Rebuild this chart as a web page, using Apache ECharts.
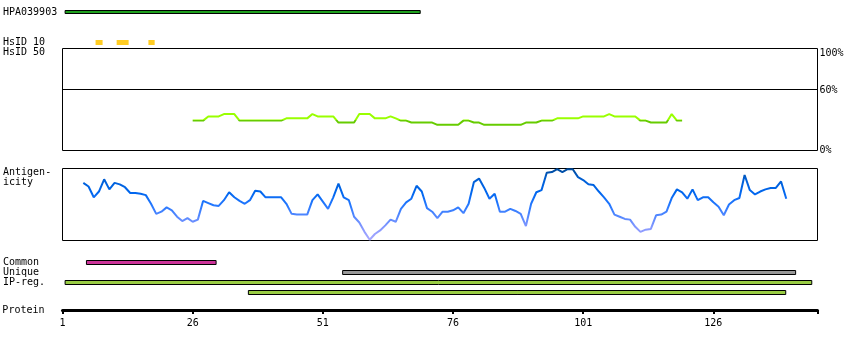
<!DOCTYPE html>
<html>
<head>
<meta charset="utf-8">
<script src="https://cdn.jsdelivr.net/npm/echarts@6/dist/echarts.min.js"></script>
<style>html,body{margin:0;padding:0;background:#fff}#c{width:850px;height:350px}</style>
</head>
<body>
<div id="c"></div>
<script>
// ---- data (residue numbers) ----
const proteinLength = 145;
const tickLabels = ['1', '26', '51', '76', '101', '126'];
const topRows = ['HPA039903', ' ', '  ', 'HsID 10'];
const bottomRows = ['Common', 'Unique', 'IP-reg.', ''];
const hpaRanges = [[1.5, 69.7]];
const hsid10Ranges = [[7.35, 8.7], [11.4, 13.7], [17.5, 18.7]];
const commonRanges = [[5.6, 30.5]];
const uniqueRanges = [[54.8, 141.8]];
const ipRegRanges = [[1.5, 144.9], [36.7, 139.9]];
const ipRegRows = [2, 3];

const hsid50Start = 26;
const hsid50 = [
  29.3, 29.3, 29.3, 33.4, 33.4, 33.4, 35.7, 35.7, 35.7,
  29.3, 29.3, 29.3, 29.3, 29.3, 29.3, 29.3, 29.3, 29.3,
  31.5, 31.5, 31.5, 31.5, 31.5, 35.7, 33.4, 33.4, 33.4, 33.4,
  27.4, 27.4, 27.4, 27.4, 35.7, 35.7, 35.7, 31.5, 31.5, 31.5,
  33.4, 31.5, 29.3, 29.3, 27.4, 27.4, 27.4, 27.4, 27.4,
  25.2, 25.2, 25.2, 25.2, 25.2, 29.3, 29.3, 27.4, 27.4,
  25.2, 25.2, 25.2, 25.2, 25.2, 25.2, 25.2, 25.2,
  27.4, 27.4, 27.4, 29.3, 29.3, 29.3, 31.5, 31.5, 31.5, 31.5, 31.5,
  33.4, 33.4, 33.4, 33.4, 33.4, 35.7, 33.4, 33.4, 33.4, 33.4, 33.4,
  29.3, 29.3, 27.4, 27.4, 27.4, 27.4, 35.7, 29.3, 29.3
];

const antigenStart = 5;
const antigenicity = [
  80, 75, 60, 68, 85, 71, 80, 78, 74, 66, 66, 65, 63, 51, 37, 40, 46, 42, 33, 27,
  31, 26, 29, 55, 52, 49, 48, 56, 67, 60, 55, 51, 56, 69, 68, 60, 60, 60, 60, 51,
  37, 36, 36, 36, 56, 64, 54, 44, 60, 79, 60, 56, 33, 25, 12, 1, 9, 14, 21, 29,
  26, 44, 53, 58, 76, 68, 45, 40, 31, 40, 40, 42, 46, 38, 51, 81, 86, 73, 58, 65,
  40, 40, 44, 41, 37, 20, 51, 67, 70, 94, 95, 99, 95, 99, 99, 88, 84, 78, 77, 68,
  60, 51, 36, 33, 30, 29, 19, 12, 15, 16, 35, 36, 40, 59, 71, 67, 58, 71, 56, 60,
  60, 53, 47, 35, 50, 56, 59, 91, 70, 64, 68, 71, 73, 73, 82, 58
];

// ---- chart ----
const FONT = 'DejaVu Sans Mono';
const L = 62.5, W = 755;
const ax = r => r - 1; // residue -> axis position

function rangeRender(h, fill, stroke) {
  return function (params, api) {
    const a = api.coord([api.value(0), api.value(2)]);
    const b = api.coord([api.value(1), api.value(2)]);
    const y = stroke ? Math.floor(a[1] - h / 2) + 0.5 : Math.round(a[1] - h / 2);
    return {
      type: 'rect',
      shape: { x: a[0], y: y, width: b[0] - a[0], height: h },
      style: { fill: fill, stroke: stroke ? '#000' : null, lineWidth: stroke ? 1 : 0 }
    };
  };
}
function rangeData(ranges, rows) {
  return ranges.map((r, i) => [ax(r[0]), ax(r[1]), Array.isArray(rows) ? rows[i] : rows]);
}
const catAxisLabel = { interval: 0, align: 'left', margin: 59.5, fontFamily: FONT, fontSize: 10, color: '#000' };

const xAxes = [0, 1, 2, 3, 4].map(i => ({
  type: 'value', gridIndex: i, min: 0, max: proteinLength, interval: 25,
  show: i === 4,
  axisLine: { show: true, lineStyle: { color: '#000', width: 3 } },
  axisTick: { show: true, length: 4, lineStyle: { color: '#000', width: 2 } },
  splitLine: { show: false },
  axisLabel: {
    margin: 8, fontFamily: FONT, fontSize: 10, color: '#000',
    formatter: v => (v % 25 === 0 && tickLabels[v / 25] !== undefined) ? tickLabels[v / 25] : ''
  },
  name: i === 4 ? 'Protein' : '', nameLocation: 'start', nameGap: 18,
  nameTextStyle: { fontFamily: FONT, fontSize: 10, color: '#000' }
}));

const option = {
  animation: false,
  textStyle: { fontFamily: FONT, fontSize: 10, color: '#000' },
  grid: [
    { left: L, width: W, top: 7, height: 40 },
    { left: L, width: W, top: 48.5, height: 102, show: true, borderColor: '#000', borderWidth: 1 },
    { left: L, width: W, top: 168.5, height: 72, show: true, borderColor: '#000', borderWidth: 1 },
    { left: L, width: W, top: 257, height: 40 },
    { left: L, width: W, top: 300, height: 10 }
  ],
  xAxis: xAxes,
  yAxis: [
    { type: 'category', gridIndex: 0, data: topRows, inverse: true,
      axisLine: { show: false }, axisTick: { show: false }, axisLabel: catAxisLabel },
    { type: 'value', gridIndex: 1, position: 'right', min: 0, max: 100, interval: 20,
      axisLine: { show: false }, axisTick: { show: false }, splitLine: { show: false },
      axisLabel: {
        margin: 2, fontFamily: FONT, fontSize: 10, color: '#000',
        formatter: v => v === 100 ? '{t|100%}' : v === 60 ? '{m|60%}' : v === 0 ? '0%' : '',
        rich: {
          t: { padding: [9, 0, 0, 0], fontFamily: FONT, fontSize: 10, color: '#000' },
          m: { padding: [3, 0, 0, 0], fontFamily: FONT, fontSize: 10, color: '#000' }
        }
      } },
    { type: 'value', gridIndex: 2, min: 0, max: 100, show: false },
    { type: 'category', gridIndex: 3, data: bottomRows, inverse: true,
      axisLine: { show: false }, axisTick: { show: false }, axisLabel: catAxisLabel },
    { type: 'value', gridIndex: 4, min: 0, max: 1, show: false }
  ],
  visualMap: [
    { type: 'piecewise', show: false, seriesIndex: 2, dimension: 1,
      pieces: [{ min: 0, max: 30, color: '#66cc00' }, { min: 30, max: 100, color: '#99ff00' }] },
    { type: 'continuous', show: false, seriesIndex: 3, dimension: 1, min: 0, max: 100,
      inRange: { color: ['#aaaaff', '#8899ff', '#5588ff', '#2277ff', '#0066ee', '#0060d8', '#004a99'] } }
  ],
  graphic: [
    { type: 'text', x: 3, y: 52.5, style: { text: 'HsID 50', font: '10px "DejaVu Sans Mono"', fill: '#000', verticalAlign: 'middle' } },
    { type: 'text', x: 3, y: 177.5, style: { text: 'Antigen-\nicity', font: '10px "DejaVu Sans Mono"', lineHeight: 10, fill: '#000', verticalAlign: 'middle' } }
  ],
  series: [
    { type: 'custom', xAxisIndex: 0, yAxisIndex: 0, encode: { x: [0, 1], y: 2 },
      renderItem: rangeRender(3, '#1ea01e', true), data: rangeData(hpaRanges, 0) },
    { type: 'custom', xAxisIndex: 0, yAxisIndex: 0, encode: { x: [0, 1], y: 2 },
      renderItem: rangeRender(5, '#ffcc22', false), data: rangeData(hsid10Ranges, 3) },
    { type: 'line', xAxisIndex: 1, yAxisIndex: 1, showSymbol: false, symbol: 'none',
      lineStyle: { width: 2 },
      data: hsid50.map((v, i) => [ax(hsid50Start + i), v]),
      markLine: { silent: true, symbol: 'none', label: { show: false },
        lineStyle: { color: '#000', width: 1, type: 'solid' }, data: [{ yAxis: 60 }] } },
    { type: 'line', xAxisIndex: 2, yAxisIndex: 2, showSymbol: false, symbol: 'none',
      lineStyle: { width: 2 },
      data: antigenicity.map((v, i) => [ax(antigenStart + i), v]) },
    { type: 'custom', xAxisIndex: 3, yAxisIndex: 3, encode: { x: [0, 1], y: 2 },
      renderItem: rangeRender(4, '#cc3399', true), data: rangeData(commonRanges, 0) },
    { type: 'custom', xAxisIndex: 3, yAxisIndex: 3, encode: { x: [0, 1], y: 2 },
      renderItem: rangeRender(4, '#999999', true), data: rangeData(uniqueRanges, 1) },
    { type: 'custom', xAxisIndex: 3, yAxisIndex: 3, encode: { x: [0, 1], y: 2 },
      renderItem: rangeRender(4, '#99cc44', true), data: rangeData(ipRegRanges, ipRegRows) }
  ]
};
const chart = echarts.init(document.getElementById('c'));
chart.setOption(option);
</script>
</body>
</html>
